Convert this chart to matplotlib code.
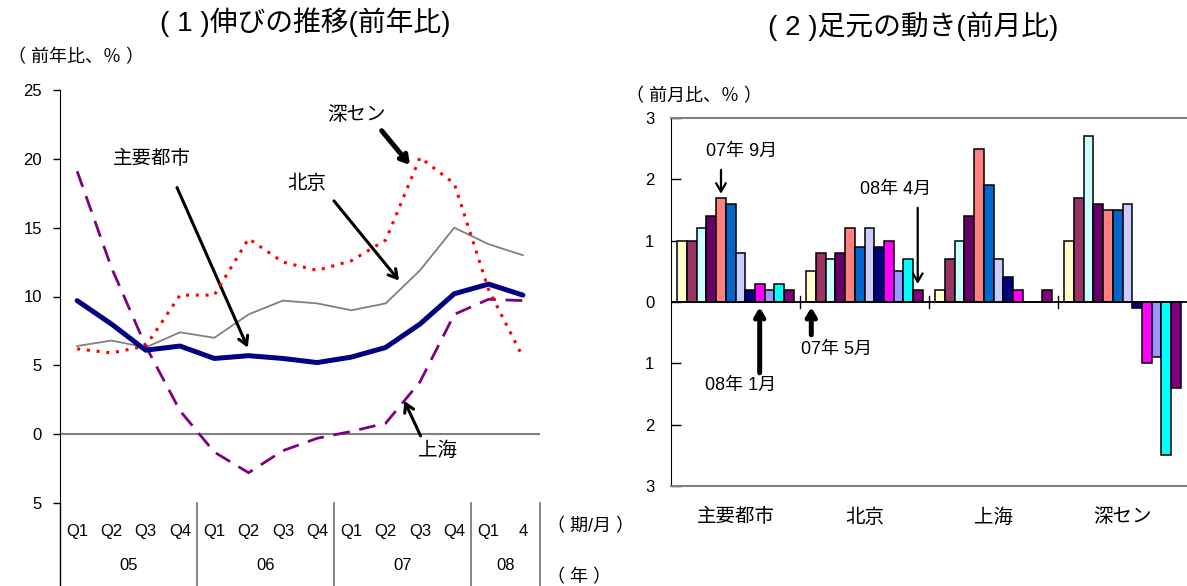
import numpy as np
import matplotlib
matplotlib.use("Agg")
import matplotlib.pyplot as plt
from matplotlib.transforms import blended_transform_factory

plt.rcParams['font.family'] = ['Liberation Sans', 'Noto Sans CJK JP', 'DejaVu Sans']

# ---- (1) year-on-year growth, quarterly ----
quarters = ["Q1", "Q2", "Q3", "Q4"] * 3 + ["Q1", "4"]
years = ["05", "06", "07", "08"]
year_spans = [(0, 3), (4, 7), (8, 11), (12, 13)]

major_cities = [9.7, 8.0, 6.1, 6.4, 5.5, 5.7, 5.5, 5.2, 5.6, 6.3, 8.0, 10.2, 10.9, 10.1]
beijing = [6.4, 6.8, 6.3, 7.4, 7.0, 8.7, 9.7, 9.5, 9.0, 9.5, 11.9, 15.0, 13.8, 13.0]
shenzhen = [6.2, 5.9, 6.4, 10.1, 10.1, 14.2, 12.5, 11.9, 12.6, 14.1, 20.1, 18.2, 10.5, 5.6]
shanghai = [19.1, 12.1, 6.4, 1.7, -1.3, -2.8, -1.2, -0.3, 0.2, 0.8, 3.8, 8.7, 9.8, 9.7]

# ---- (2) month-on-month, Jul-2007 .. Apr-2008 by city ----
cities = ["主要都市", "北京", "上海", "深セン"]
months = ["07/5", "07/6", "07/7", "07/8", "07/9", "07/10", "07/11", "07/12",
          "08/1", "08/2", "08/3", "08/4"]
mom_major = [1.0, 1.0, 1.2, 1.4, 1.7, 1.6, 0.8, 0.2, 0.3, 0.2, 0.3, 0.2]
mom_beijing = [0.5, 0.8, 0.7, 0.8, 1.2, 0.9, 1.2, 0.9, 1.0, 0.5, 0.7, 0.2]
mom_shanghai = [0.2, 0.7, 1.0, 1.4, 2.5, 1.9, 0.7, 0.4, 0.2, 0.0, 0.0, 0.2]
mom_shenzhen = [1.0, 1.7, 2.7, 1.6, 1.5, 1.5, 1.6, -0.1, -1.0, -0.9, -2.5, -1.4]
month_colors = ["#FFFFCC", "#993366", "#CCFFFF", "#660066", "#FF8080", "#0066CC",
                "#CCCCFF", "#000080", "#FF00FF", "#9999FF", "#00FFFF", "#800080"]

W, H = 1187, 586
fig = plt.figure(figsize=(W / 100, H / 100), dpi=100)

# ================= left panel =================
ax1 = fig.add_axes([60 / W, 1 - 503 / H, 480 / W, 413 / H])
x = np.arange(len(quarters))
ax1.axhline(0, color="#808080", lw=1.5, zorder=1)
ax1.plot(x, beijing, color="#808080", lw=1.3, zorder=2)
ax1.plot(x, shanghai, color="#800080", lw=2.0, dashes=(6, 3.5), zorder=3)
ax1.plot(x, shenzhen, color="#FF0000", lw=2.2, linestyle=(0, (1.0, 2.2)), zorder=4)
ax1.plot(x, major_cities, color="#000080", lw=3.6, solid_capstyle="round", zorder=5)

ax1.set_xlim(-0.5, len(quarters) - 0.5)
ax1.set_ylim(-5, 25)
ax1.set_yticks([25, 20, 15, 10, 5, 0, -5])
ax1.set_yticklabels(["25", "20", "15", "10", "5", "0", "5"], fontsize=12)
ax1.tick_params(axis="y", direction="out", length=5, width=1, pad=8)
ax1.set_xticks(x)
ax1.set_xticklabels(quarters, fontsize=12)
ax1.tick_params(axis="x", length=0, pad=15)
for s in ("top", "right", "bottom"):
    ax1.spines[s].set_visible(False)
ax1.spines["left"].set_color("black")

trans1 = blended_transform_factory(ax1.transData, ax1.transAxes)
ext = -(H - 503) / 413
ax1.plot([0, 0], [0, ext], transform=ax1.transAxes, color="black", lw=1, clip_on=False)
for sep in (3.5, 7.5, 11.5, 13.5):
    ax1.plot([sep, sep], [0, ext], transform=trans1, color="#707070", lw=1.2, clip_on=False)
for label, (a, b) in zip(years, year_spans):
    ax1.text((a + b) / 2, -63 / 413, label, transform=trans1, ha="center", va="center", fontsize=12)
ax1.text(13.7, -24 / 413, "（ 期/月 ）", transform=trans1, ha="left", va="center", fontsize=13)
ax1.text(13.7, -75 / 413, "（ 年 ）", transform=trans1, ha="left", va="center", fontsize=13)

fig.text(305 / W, 1 - 22 / H, "( 1 )伸びの推移(前年比)", ha="center", va="center", fontsize=20)
fig.text(8 / W, 1 - 58 / H, "（ 前年比、％ ）", ha="left", va="center", fontsize=13)

ann = dict(fontsize=14, ha="center", va="center")
ax1.text(2.18, 20.0, "主要都市", **ann)
ax1.annotate("", xy=(5.01, 6.1), xytext=(2.88, 18.1),
             arrowprops=dict(arrowstyle="->,head_length=0.6,head_width=0.35", lw=2.2, color="black"))
ax1.text(6.70, 18.2, "北京", **ann)
ax1.annotate("", xy=(9.44, 11.0), xytext=(7.44, 17.1),
             arrowprops=dict(arrowstyle="->,head_length=0.6,head_width=0.35", lw=2.2, color="black"))
ax1.text(8.16, 23.2, "深セン", **ann)
ax1.annotate("", xy=(9.76, 19.4), xytext=(8.83, 22.2),
             arrowprops=dict(arrowstyle="->,head_length=0.5,head_width=0.3", lw=3.6, color="black"))
ax1.text(10.52, -1.2, "上海", **ann)
ax1.annotate("", xy=(9.51, 2.6), xytext=(10.05, -0.3),
             arrowprops=dict(arrowstyle="->,head_length=0.6,head_width=0.35", lw=2.2, color="black"))

# ================= right panel =================
ax2 = fig.add_axes([671 / W, 1 - 486 / H, 516 / W, 368 / H])
series = np.array([mom_major, mom_beijing, mom_shanghai, mom_shenzhen])
n = len(months)
bw = 0.9 / n
gx = np.arange(len(cities))
for j in range(n):
    ax2.bar(gx + 0.05 + bw * (j + 0.5), series[:, j], width=bw, color=month_colors[j],
            edgecolor="black", linewidth=1.1, zorder=2)
ax2.axhline(0, color="black", lw=1.3, zorder=3)
for b in range(1, len(cities)):
    ax2.plot([b, b], [-0.1, 0.1], color="black", lw=1, zorder=3)

ax2.set_xlim(0, len(cities))
ax2.set_ylim(-3, 3)
ax2.set_yticks([3, 2, 1, 0, -1, -2, -3])
ax2.set_yticklabels(["3", "2", "1", "0", "1", "2", "3"], fontsize=12)
ax2.tick_params(axis="y", direction="in", length=7, width=1, pad=12)
ax2.set_xticks(gx + 0.5)
ax2.set_xticklabels(cities, fontsize=14)
ax2.tick_params(axis="x", length=0, pad=16)
ax2.spines["right"].set_visible(False)
ax2.spines["top"].set_color("#808080")
ax2.spines["bottom"].set_color("#808080")
ax2.spines["top"].set_linewidth(1.5)
ax2.spines["bottom"].set_linewidth(1.5)
ax2.spines["left"].set_color("black")

fig.text(913 / W, 1 - 26 / H, "( 2 )足元の動き(前月比)", ha="center", va="center", fontsize=20)
fig.text(626 / W, 1 - 97 / H, "（ 前月比、％ ）", ha="left", va="center", fontsize=13)

def bar_x(group, month):
    return group + 0.05 + bw * (month + 0.5)

thin = dict(arrowstyle="->,head_length=0.6,head_width=0.35", lw=1.6, color="black")
thick = dict(arrowstyle="->,head_length=0.5,head_width=0.3", lw=3.6, color="black")
lab = dict(fontsize=13, ha="center", va="center")

ax2.text(0.55, 2.45, "07年 9月", **lab)
ax2.annotate("", xy=(bar_x(0, 4), mom_major[4] + 0.02), xytext=(bar_x(0, 4), 2.2), arrowprops=thin)
ax2.text(1.74, 1.83, "08年 4月", **lab)
ax2.annotate("", xy=(bar_x(1, 11), mom_beijing[11] + 0.05), xytext=(bar_x(1, 11), 1.58), arrowprops=thin)
ax2.text(0.54, -1.36, "08年 1月", **lab)
ax2.annotate("", xy=(bar_x(0, 8), -0.04), xytext=(bar_x(0, 8), -1.2), arrowprops=thick)
ax2.text(1.28, -0.78, "07年 5月", **lab)
ax2.annotate("", xy=(bar_x(1, 0), -0.04), xytext=(bar_x(1, 0), -0.58), arrowprops=thick)

fig.savefig("out.png", dpi=100)
